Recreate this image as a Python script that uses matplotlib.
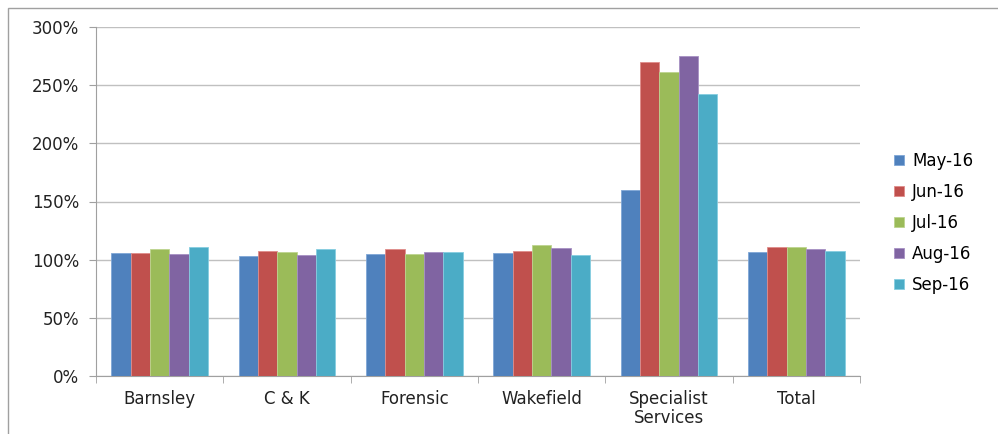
import numpy as np
import matplotlib
matplotlib.use("Agg")
import matplotlib.pyplot as plt
from matplotlib.patches import Rectangle

categories = ["Barnsley", "C & K", "Forensic", "Wakefield", "Specialist\nServices", "Total"]
months = ["May-16", "Jun-16", "Jul-16", "Aug-16", "Sep-16"]
may16 = [106, 103, 105, 106, 160, 107]
jun16 = [106, 107.5, 109, 107.5, 269.5, 111]
jul16 = [109, 106.5, 105, 112.5, 261, 111]
aug16 = [105, 104, 106.5, 110, 275, 109]
sep16 = [111, 109, 106.5, 104, 242.5, 107.5]
series = [may16, jun16, jul16, aug16, sep16]
colors = ["#4F81BD", "#C0504D", "#9BBB59", "#8064A2", "#4BACC6"]
edges = ["#7FA6D6", "#E08C8A", "#BDD48F", "#A690C4", "#86CDE0"]

plt.rcParams['font.family'] = ['DejaVu Sans']
fig = plt.figure(figsize=(9.98, 4.34), dpi=100)
ax = fig.add_axes([96/998, 1-376/434, (860-96)/998, (376-27)/434])

x = np.arange(len(categories))
w = 0.152
for i, (vals, c, e) in enumerate(zip(series, colors, edges)):
    ax.bar(x + (i - 2) * w, vals, w, color=c, edgecolor=e, linewidth=0.6,
           label=months[i], zorder=3)

ax.set_xlim(-0.5, len(categories) - 0.5)
ax.set_ylim(0, 300)
ax.set_yticks(np.arange(0, 301, 50))
ax.set_yticklabels([f"{v}%" for v in range(0, 301, 50)])
ax.set_xticks(x)
ax.set_xticklabels(categories, linespacing=1.1)
ax.set_xticks(np.arange(-0.5, len(categories), 1), minor=True)
ax.tick_params(axis='x', which='major', length=0, pad=10)
ax.tick_params(axis='x', which='minor', length=5, color='#A0A0A0', direction='out')
ax.tick_params(axis='y', length=5, color='#A0A0A0', pad=7)
ax.tick_params(labelsize=12, labelcolor='#222222')
ax.grid(axis='y', color='#C0C0C0', linewidth=1, zorder=0)
for s in ['top', 'right']:
    ax.spines[s].set_visible(False)
for s in ['left', 'bottom']:
    ax.spines[s].set_color('#A0A0A0')

handles, labels = ax.get_legend_handles_labels()
fig.legend(handles, labels, loc='center left', bbox_to_anchor=(879/998, 1-223/434),
           frameon=False, fontsize=12, handlelength=0.6, handleheight=0.6,
           labelspacing=0.78, handletextpad=0.5)

fig.patches.append(Rectangle((8/998, -0.1), 1.2, 1.1 - 8/434, transform=fig.transFigure,
                             fill=False, edgecolor='#A0A0A0', linewidth=1.0))

fig.savefig("out.png", dpi=100)
